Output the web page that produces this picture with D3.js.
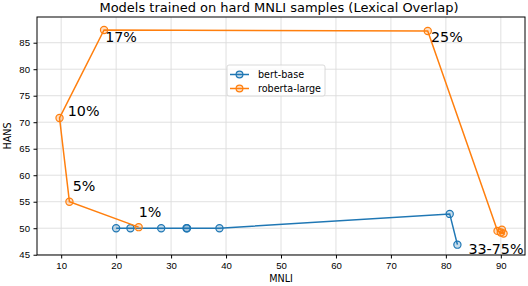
<!DOCTYPE html>
<html>
<head>
<meta charset="utf-8">
<script src="https://cdn.jsdelivr.net/npm/d3@7"></script>
<style>
  body { margin: 0; background: #fff; }
  svg { font-family: "DejaVu Sans", sans-serif; }
  .tick text { font-size: 9.6px; fill: #000; }
  .tick line { stroke: #000; }
  .grid line { stroke: #dcdcdc; stroke-width: 0.9; }
</style>
</head>
<body>
<div id="chart"></div>
<script>
// bert-base runs (MNLI acc, HANS acc)
var bertMnli = [20.0, 22.6, 28.2, 32.8, 32.9, 38.8, 80.7, 82.1];
var bertHans = [50.0, 50.0, 50.0, 50.0, 50.0, 50.0, 52.7, 46.9];

// roberta-large runs, in order of the share of hard samples
var robertaMnli = [24.1, 11.5, 9.7, 17.8, 76.7, 89.4, 90.0, 90.5, 90.2];
var robertaHans = [50.2, 55.0, 70.8, 87.4, 87.2, 49.5, 49.2, 49.0, 49.7];

// percentage annotations
var labelText = ["1%", "5%", "10%", "17%", "25%", "33-75%"];
var labelMnli = [24.1, 12.1, 11.2, 18.0, 77.3, 84.1];
var labelHans = [52.1, 57.0, 71.2, 85.2, 85.2, 45.1];

var xTicks = [10, 20, 30, 40, 50, 60, 70, 80, 90];
var yTicks = [45, 50, 55, 60, 65, 70, 75, 80, 85];

var margin = {top: 17, right: 3, bottom: 31, left: 37};
var W = 528, H = 286;
var width = W - margin.left - margin.right,
    height = H - margin.top - margin.bottom;

var x = d3.scaleLinear().domain([5.6, 94.4]).range([0, width]);
var y = d3.scaleLinear().domain([44.95, 89.85]).range([height, 0]);

var svg = d3.select("#chart").append("svg")
  .attr("width", W).attr("height", H);
var g = svg.append("g")
  .attr("transform", "translate(" + margin.left + "," + margin.top + ")");

// grid
g.append("g").attr("class", "grid")
  .selectAll("line").data(xTicks).enter().append("line")
  .attr("x1", d => x(d)).attr("x2", d => x(d))
  .attr("y1", 0).attr("y2", height);
g.append("g").attr("class", "grid")
  .selectAll("line").data(yTicks).enter().append("line")
  .attr("y1", d => y(d)).attr("y2", d => y(d))
  .attr("x1", 0).attr("x2", width);

// axes
g.append("g")
  .attr("transform", "translate(0," + height + ")")
  .call(d3.axisBottom(x).tickValues(xTicks).tickSize(3.5).tickPadding(3.5))
  .call(a => a.select(".domain").remove());
g.append("g")
  .call(d3.axisLeft(y).tickValues(yTicks).tickSize(3.5).tickPadding(3.5))
  .call(a => a.select(".domain").remove());

var series = [
  {name: "bert-base", color: "#1f77b4", xs: bertMnli, ys: bertHans},
  {name: "roberta-large", color: "#ff7f0e", xs: robertaMnli, ys: robertaHans}
];

var line = d3.line().x(d => x(d[0])).y(d => y(d[1]));

series.forEach(function(s) {
  var pts = s.xs.map((v, i) => [v, s.ys[i]]);
  g.append("path").datum(pts)
    .attr("d", line)
    .attr("fill", "none")
    .attr("stroke", s.color)
    .attr("stroke-width", 1.5);
  g.selectAll(null).data(pts).enter().append("circle")
    .attr("cx", d => x(d[0])).attr("cy", d => y(d[1]))
    .attr("r", 3.6)
    .attr("fill", s.color).attr("fill-opacity", 0.25)
    .attr("stroke", s.color).attr("stroke-width", 1.2);
});

// annotations
g.selectAll(null).data(labelText).enter().append("text")
  .attr("x", (d, i) => x(labelMnli[i]))
  .attr("y", (d, i) => y(labelHans[i]))
  .attr("font-size", 14.3)
  .text(d => d);

// frame
g.append("rect")
  .attr("width", width).attr("height", height)
  .attr("fill", "none").attr("stroke", "#000").attr("stroke-width", 1);

// legend
var leg = g.append("g").attr("transform", "translate(" + (227 - margin.left) + "," + (65 - margin.top) + ")");
leg.append("rect")
  .attr("width", 98).attr("height", 31).attr("rx", 2)
  .attr("fill", "#fff").attr("fill-opacity", 0.8)
  .attr("stroke", "#d0d0d0").attr("stroke-width", 0.8);
series.forEach(function(s, i) {
  var ly = 9.5 + i * 14;
  leg.append("line")
    .attr("x1", 3).attr("x2", 22).attr("y1", ly).attr("y2", ly)
    .attr("stroke", s.color).attr("stroke-width", 1.5);
  leg.append("circle")
    .attr("cx", 12.5).attr("cy", ly).attr("r", 3.4)
    .attr("fill", s.color).attr("fill-opacity", 0.25)
    .attr("stroke", s.color).attr("stroke-width", 1.2);
  leg.append("text")
    .attr("x", 31).attr("y", ly + 3.5)
    .attr("font-size", 9.6)
    .text(s.name);
});

// title and labels
svg.append("text")
  .attr("x", margin.left + width / 2 - 2).attr("y", 11.5)
  .attr("text-anchor", "middle").attr("font-size", 13)
  .text("Models trained on hard MNLI samples (Lexical Overlap)");
svg.append("text")
  .attr("x", margin.left + width / 2).attr("y", 282)
  .attr("text-anchor", "middle").attr("font-size", 9.6)
  .text("MNLI");
svg.append("text")
  .attr("transform", "translate(11," + (margin.top + height / 2) + ") rotate(-90)")
  .attr("text-anchor", "middle").attr("font-size", 9.6)
  .text("HANS");
</script>
</body>
</html>
